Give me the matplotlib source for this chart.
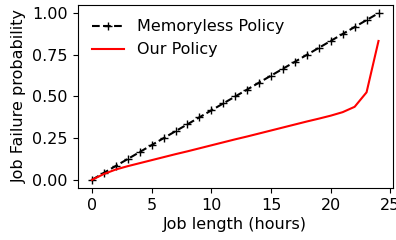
import matplotlib
matplotlib.use("Agg")
import matplotlib.pyplot as plt
import numpy as np

hours = list(range(25))
memoryless = [h / 24 for h in hours]
our_policy = [0.0, 0.035, 0.062, 0.082, 0.100, 0.118, 0.136, 0.154, 0.171, 0.189,
              0.207, 0.225, 0.243, 0.260, 0.278, 0.296, 0.314, 0.332, 0.350, 0.367,
              0.385, 0.406, 0.438, 0.525, 0.833]

plt.rcParams['font.size'] = 11.5

fig = plt.figure(figsize=(3.96, 2.4), dpi=100)
ax = fig.add_axes([0.196, 0.216, 0.796, 0.764])

ax.plot(hours, memoryless, 'k+--', markersize=6, label='Memoryless Policy')
ax.plot(hours, our_policy, 'r-', label='Our Policy')

ax.set_xlabel('Job length (hours)', labelpad=3)
ax.set_ylabel('Job Failure probability')
ax.set_xticks([0, 5, 10, 15, 20, 25])
ax.set_yticks([0.0, 0.25, 0.5, 0.75, 1.0])
ax.legend(loc='upper left', frameon=False)

plt.savefig("out.png", dpi=100)
